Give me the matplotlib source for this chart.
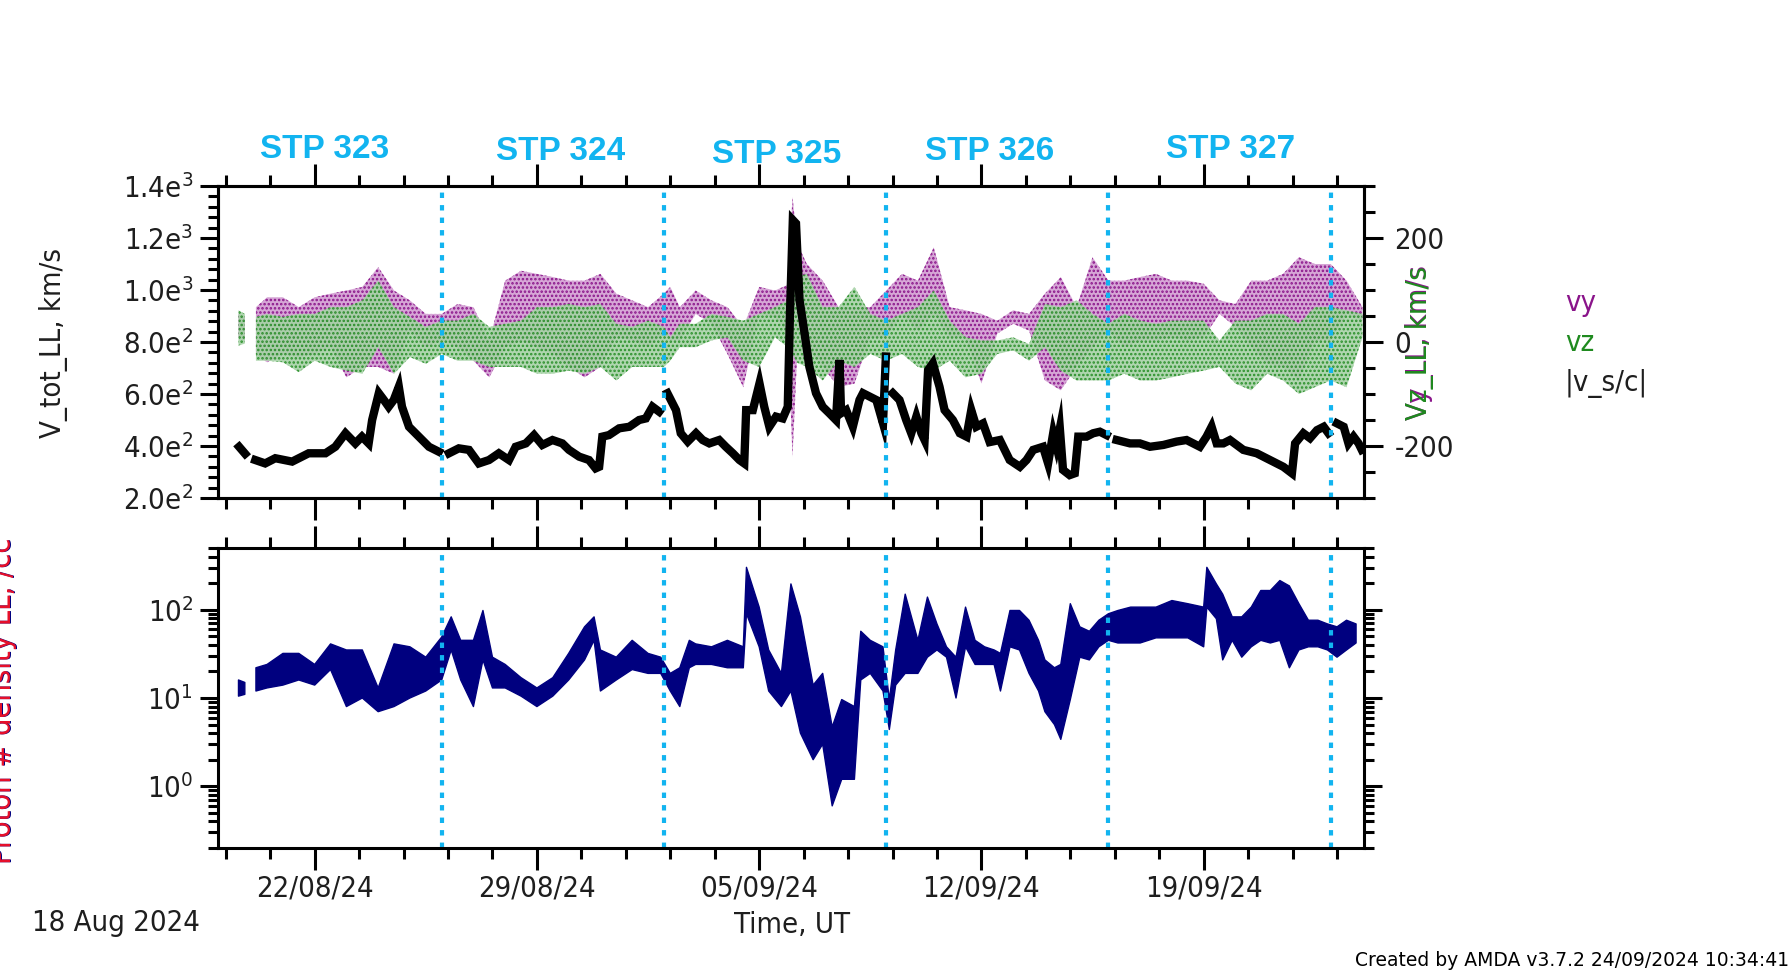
import numpy as np
import pandas as pd
import matplotlib
matplotlib.use("Agg")
import matplotlib.pyplot as plt
import matplotlib.dates as mdates
from matplotlib.ticker import MultipleLocator, FixedLocator, FuncFormatter, LogLocator, NullFormatter

plt.rcParams["font.family"] = ["DejaVu Sans"]
plt.rcParams["font.stretch"] = "condensed"
plt.rcParams["axes.unicode_minus"] = False
plt.rcParams["hatch.linewidth"] = 1.2

START = pd.Timestamp("2024-08-18")

# times are days after 18/08/2024 00:00 UT
# |v_s/c| (left axis, km/s)
t_vt = [1.62, 1.81, 1.95, 2.13, 2.44, 2.76, 3.29, 3.81, 4.34, 4.65,
        4.97, 5.28, 5.49, 5.70, 5.81, 6.02, 6.18, 6.33, 6.49, 6.65,
        6.75, 6.97, 7.28, 7.60, 7.91, 8.05, 8.23, 8.54, 8.86, 9.17,
        9.49, 9.80, 10.12, 10.33, 10.65, 10.91, 11.17, 11.49, 11.80, 12.01,
        12.33, 12.64, 12.85, 12.96, 13.06, 13.27, 13.59, 13.91, 14.22, 14.43,
        14.64, 14.85, 14.98, 15.11, 15.38, 15.53, 15.75, 16.01, 16.22, 16.43,
        16.74, 16.95, 17.17, 17.38, 17.53, 17.59, 17.80, 18.01, 18.16, 18.32,
        18.53, 18.74, 18.90, 18.97, 19.06, 19.16, 19.27, 19.43, 19.58, 19.79,
        20.00, 20.21, 20.42, 20.53, 20.58, 20.74, 20.95, 21.16, 21.27, 21.48,
        21.69, 21.90, 21.99, 22.05, 22.21, 22.42, 22.63, 22.79, 22.95, 23.11,
        23.21, 23.32, 23.47, 23.68, 23.84, 24.10, 24.32, 24.53, 24.68, 24.84,
        25.05, 25.26, 25.58, 25.89, 26.21, 26.42, 26.63, 26.94, 27.10, 27.26,
        27.36, 27.47, 27.57, 27.78, 27.94, 28.05, 28.31, 28.52, 28.73, 28.94,
        29.10, 29.26, 29.68, 29.99, 30.31, 30.73, 31.15, 31.46, 31.88, 32.09,
        32.25, 32.41, 32.62, 32.83, 33.25, 33.67, 34.09, 34.51, 34.78, 34.88,
        35.14, 35.35, 35.57, 35.78, 35.93, 36.05, 36.20, 36.41, 36.56, 36.72,
        36.88, 36.98]
nan = np.nan
vt = [397, 370, nan, 346, 333, 353, 340, 372, 372, 397,
      449, 410, 436, 410, 500, 603, 577, 551, 577, 628,
      551, 474, 436, 397, 378, nan, 372, 391, 385, 333,
      346, 372, 346, 397, 410, 442, 404, 423, 410, 385,
      359, 346, 314, 320, 436, 442, 468, 474, 500, 506,
      551, 532, nan, 603, 538, 449, 417, 449, 423, 410,
      423, 397, 372, 346, 333, 538, 538, 641, 551, 474,
      513, 506, 551, 910, 1269, 1256, 962, 833, 705, 603,
      551, 526, 500, 731, 526, 538, 474, 577, 603, 590,
      577, 487, 744, nan, 603, 577, 500, 449, 513, 449,
      423, 692, 718, 628, 538, 500, 449, 436, 538, 474,
      487, 415, 423, 346, 320, 346, 385, 397, 333, 449,
      400, 468, 308, 288, 295, 436, 436, 449, 455, 442,
      nan, 423, 410, 410, 397, 404, 417, 423, 397, 436,
      474, 410, 410, 423, 385, 372, 346, 320, 295, 410,
      449, 430, 461, 474, 449, nan, 487, 474, 410, 436,
      410, 385]

# vy / vz spread (right axis, km/s)
t_v = [1.6, 1.8, 2.0, 2.15,
       2.5, 3.0, 3.5, 4.0, 4.5, 5.0, 5.5, 6.0, 6.5, 7.0,
       7.5, 8.0, 8.5, 9.0, 9.5, 10.0, 10.5, 11.0, 11.5, 12.0,
       12.5, 13.0, 13.5, 14.0, 14.5, 15.0,
       15.2, 15.5, 16.0, 16.5, 17.0, 17.5, 18.0, 18.5,
       18.9, 19.05, 19.2,
       19.5, 20.0, 20.5, 21.0, 21.5, 22.0, 22.5, 23.0, 23.5, 24.0,
       24.5, 25.0, 25.5, 26.0, 26.5, 27.0, 27.5, 28.0, 28.5, 29.0,
       29.5, 30.0, 30.5, 31.0, 31.5, 32.0, 32.5, 33.0, 33.5, 34.0,
       34.5, 35.0, 35.5, 36.0, 36.5, 37.0]
vy_hi = [54, 48, nan, 67,
         86, 86, 67, 86, 93, 99, 106, 144, 99, 80,
         54, 54, 73, 67, 3, 118, 137, 131, 125, 118,
         118, 131, 93, 80, 67, 93,
         106, 67, 99, 80, 67, 29, 106, 99,
         110, 279, 190,
         150, 118, 67, 67, 67, 99, 131, 118, 182, 67,
         61, 54, 41, 61, 54, 93, 125, 67, 163, 118,
         118, 125, 131, 118, 118, 112, 80, 73, 118, 118,
         131, 163, 150, 150, 118, 67]
vy_lo = [9, 3, nan, -23,
         -39, -23, -29, -23, -10, -68, -48, -48, -61, 22,
         -10, 3, -10, -36, -68, -10, 3, -10, -23, -48,
         -68, -48, 9, 3, -10, 16,
         3, 3, 54, 35, -23, -87, 54, 48,
         20, -221, -20,
         -10, -48, -87, -80, 9, 9, 54, 22, 54, 9,
         9, -80, 16, 35, 22, -74, -93, -48, -10, 22,
         -10, 3, 3, 9, 3, 9, 54, 29, -10, -42,
         -48, -74, 3, 3, 54, 41]
vz_hi = [61, 54, nan, 48,
         54, 48, 54, 54, 67, 67, 80, 118, 67, 48,
         29, 41, 41, 54, 29, 35, 41, 67, 67, 73,
         67, 73, 35, 29, 41, 29,
         9, 35, 35, 54, 48, 41, 54, 67,
         80, 118, 125,
         131, 67, 67, 106, 54, 41, 54, 67, 99, 41,
         9, 3, 3, 9, -4, 73, 67, 80, 54, 35,
         54, 41, 35, 41, 41, 41, 3, 41, 41, 54,
         54, 35, 67, 67, 61, 54]
vz_lo = [-7, -3, nan, -36,
         -36, -39, -58, -36, -48, -55, -61, -10, -61, -29,
         -42, -23, -36, -36, -48, -48, -48, -61, -61, -55,
         -61, -48, -74, -48, -48, -48,
         -36, -10, -10, 3, 9, -36, -48, 9,
         -10, -23, -40,
         -48, -74, -36, -48, -23, -36, -23, -48, -55, -36,
         -68, -61, -23, -16, -36, -10, -55, -74, -74, -74,
         -61, -74, -74, -68, -61, -55, -48, -80, -93, -61,
         -74, -100, -87, -74, -87, 9]

# proton density spread (/cc)
t_n = [1.6, 1.8, 2.0, 2.15, 2.5, 3.0, 3.5, 4.0, 4.5, 5.0,
       5.5, 6.0, 6.5, 7.0, 7.5, 8.0, 8.3, 8.6, 9.0, 9.3,
       9.6, 10.0, 10.5, 11.0, 11.5, 12.0, 12.5, 12.8, 13.0, 13.5,
       14.0, 14.5, 14.9, 15.2, 15.5, 15.8, 16.0, 16.5, 17.0, 17.5,
       17.6, 18.0, 18.3, 18.7, 19.0, 19.3, 19.7, 20.0, 20.3, 20.6,
       21.0, 21.2, 21.5, 21.9, 22.1, 22.3, 22.6, 23.0, 23.3, 23.6,
       23.9, 24.2, 24.5, 24.8, 25.1, 25.4, 25.6, 25.9, 26.2, 26.5,
       26.8, 27.0, 27.3, 27.5, 27.8, 28.1, 28.4, 28.7, 29.0, 29.3,
       29.7, 30.0, 30.5, 31.0, 31.5, 32.0, 32.1, 32.4, 32.6, 32.9,
       33.2, 33.5, 33.8, 34.1, 34.4, 34.7, 35.0, 35.3, 35.6, 35.9,
       36.2, 36.5, 36.8]
n_lo = [10.5, 11, nan, 12, 13, 14, 16, 14, 21, 8,
        10, 7, 8, 10, 12, 16, 35, 16, 8, 27,
        13, 13, 10.5, 8, 10.5, 16, 27, 45, 12, 16,
        21, 19, 19, 12, 8, 22, 24, 24, 22, 22,
        90, 38, 12, 8, 12, 4, 2, 3, 0.6, 1.2,
        1.2, 16, 19, 12, 4.4, 14, 19, 19, 29, 35,
        29, 10, 38, 24, 24, 24, 12, 38, 35, 19,
        12, 7, 5, 3.4, 9.6, 29, 27, 38, 45, 42,
        42, 42, 48, 48, 48, 38, 107, 79, 27, 45,
        29, 38, 45, 42, 45, 22, 35, 38, 38, 35,
        29, 35, 42]
n_hi = [16, 15, nan, 22, 24, 32, 32, 24, 41, 35,
        35, 13, 41, 38, 29, 49, 83, 45, 45, 98,
        29, 24, 17, 13, 17, 32, 64, 83, 35, 29,
        45, 32, 29, 19, 22, 45, 41, 38, 45, 38,
        302, 107, 35, 19, 196, 83, 14, 19, 4.7, 9.6,
        8, 57, 45, 38, 9.6, 35, 150, 45, 139, 69,
        38, 29, 107, 45, 38, 35, 32, 98, 98, 76,
        45, 27, 22, 24, 117, 64, 57, 76, 90, 98,
        107, 107, 107, 127, 117, 107, 302, 196, 150, 83,
        83, 107, 165, 165, 214, 186, 117, 76, 76, 69,
        64, 76, 69]

stp_bounds = [8, 15, 22, 29, 36]
stp_names = ["STP 323", "STP 324", "STP 325", "STP 326", "STP 327"]
stp_pos = [(325, 150), (561, 152), (777, 154), (990, 152), (1231, 150)]

PURPLE = "#8a148a"
GREEN = "#1f8a1f"
NAVY = "#00007f"
CYAN = "#12b4f0"
TXT = "#1e1e1e"
W, H = 1791, 974


def to_dates(days):
    return (START + pd.to_timedelta(np.asarray(days, dtype=float), unit="D")).to_numpy()


def box(l, t, r, b):
    return [l / W, 1 - b / H, (r - l) / W, (b - t) / H]


def sci(v, pos):
    if v <= 0:
        return ""
    e = int(np.floor(np.log10(v) + 1e-9))
    return r"$\mathregular{%.1fe^{%d}}$" % (v / 10 ** e, e)


fig = plt.figure(figsize=(W / 100, H / 100), dpi=100)
ax = fig.add_axes(box(218, 186, 1364, 498))
ax_r = ax.twinx()
axn = fig.add_axes(box(218, 548, 1364, 848))

# speckled bands: light fill + dotted hatch, green laid over purple
tv = to_dates(t_v)
ax_r.fill_between(tv, vy_lo, vy_hi, facecolor="#d6a6d6", edgecolor=PURPLE, hatch="....", lw=0)
ax_r.fill_between(tv, vz_lo, vz_hi, facecolor="#a6d2a6", edgecolor=GREEN, hatch="....", lw=0,
                  alpha=0.9)
ax.plot(to_dates(t_vt), vt, color="black", lw=6, solid_joinstyle="miter")
ax.set_zorder(ax_r.get_zorder() + 1)
ax.patch.set_visible(False)

axn.fill_between(to_dates(t_n), n_lo, n_hi, color=NAVY, lw=1)
axn.set_yscale("log")

for a in (ax, axn):
    for d in to_dates(stp_bounds):
        a.axvline(d, color=CYAN, lw=3, ls=(0, (1.3, 1.7)))

xlim = to_dates([0.955, 37.05])
major = pd.date_range("2024-08-22", "2024-09-19", freq="7D")
minor = pd.date_range("2024-08-19 04:48", "2024-09-24", freq=pd.Timedelta(hours=33.6))
for a in (ax, ax_r, axn):
    a.set_xlim(xlim)
for a in (ax, axn):
    a.xaxis.set_major_locator(FixedLocator(mdates.date2num(major)))
    a.xaxis.set_minor_locator(FixedLocator(mdates.date2num(minor)))
    a.xaxis.set_major_formatter(mdates.DateFormatter("%d/%m/%y"))
    a.tick_params(axis="x", which="both", top=True, bottom=True, direction="out",
                  width=2.2, labelsize=21, labelcolor=TXT, pad=3)
    a.tick_params(axis="x", which="major", length=16)
    a.tick_params(axis="x", which="minor", length=8)
    a.tick_params(axis="y", which="both", direction="out", width=2.2,
                  labelsize=21, labelcolor=TXT)
    a.tick_params(axis="y", which="major", length=13, pad=5)
    a.tick_params(axis="y", which="minor", length=7)
    for s in a.spines.values():
        s.set_linewidth(2.2)
ax.tick_params(axis="x", labelbottom=False)
for s in ax_r.spines.values():
    s.set_linewidth(2.2)

ax.set_ylim(200, 1400)
ax.yaxis.set_major_locator(MultipleLocator(200))
ax.yaxis.set_minor_locator(MultipleLocator(40))
ax.yaxis.set_major_formatter(FuncFormatter(sci))

ax_r.set_ylim(-300, 300)
ax_r.yaxis.set_major_locator(FixedLocator([-200, 0, 200]))
ax_r.yaxis.set_minor_locator(MultipleLocator(50))
ax_r.tick_params(axis="y", which="both", direction="out", width=2.2, labelsize=21,
                 labelcolor=TXT)
ax_r.tick_params(axis="y", which="major", length=14, pad=8)
ax_r.tick_params(axis="y", which="minor", length=8)

axn.set_ylim(0.2, 500)
axn.yaxis.set_major_locator(LogLocator(base=10, numticks=10))
axn.yaxis.set_minor_locator(LogLocator(base=10, subs=np.arange(2, 10), numticks=20))
axn.yaxis.set_minor_formatter(NullFormatter())
axn.tick_params(axis="y", which="both", left=True, right=True)

# labels
fig.text(53 / W, 1 - 343 / H, "V_tot_LL, km/s", rotation=90, ha="center", va="center",
         fontsize=21, color=TXT)
fig.text(1420 / W, 1 - 343 / H, "Vy_LL, km/s", rotation=90, ha="center", va="center",
         fontsize=21, color=PURPLE)
fig.text(1420 / W, 1 - 343 / H, "Vz_LL, km/s", rotation=90, ha="center", va="center",
         fontsize=21, color=GREEN)
fig.text(4 / W, 1 - 701 / H, "Proton # density LL, /cc", rotation=90, ha="center",
         va="center", fontsize=22, color=NAVY)
fig.text(2.5 / W, 1 - 701 / H, "Proton # density LL, /cc", rotation=90, ha="center",
         va="center", fontsize=22, color="#e8102a")

for txt, col, yy in [("vy", PURPLE, 303), ("vz", GREEN, 343), ("|v_s/c|", TXT, 383)]:
    fig.text(1565 / W, 1 - yy / H, txt, ha="left", va="center", fontsize=21, color=col)

for name, (px, py) in zip(stp_names, stp_pos):
    fig.text(px / W, 1 - py / H, name, ha="center", va="center", fontsize=24,
             fontweight="bold", family="Liberation Sans", color=CYAN)

fig.text(792 / W, 1 - 925 / H, "Time, UT", ha="center", va="center", fontsize=21, color=TXT)
fig.text(32 / W, 1 - 923 / H, "18 Aug 2024", ha="left", va="center", fontsize=21, color=TXT)
fig.text(1789 / W, 1 - 961 / H, "Created by AMDA v3.7.2 24/09/2024 10:34:41", ha="right",
         va="center", fontsize=13.5, color="black", stretch="normal")

fig.savefig("out.png", dpi=100)
